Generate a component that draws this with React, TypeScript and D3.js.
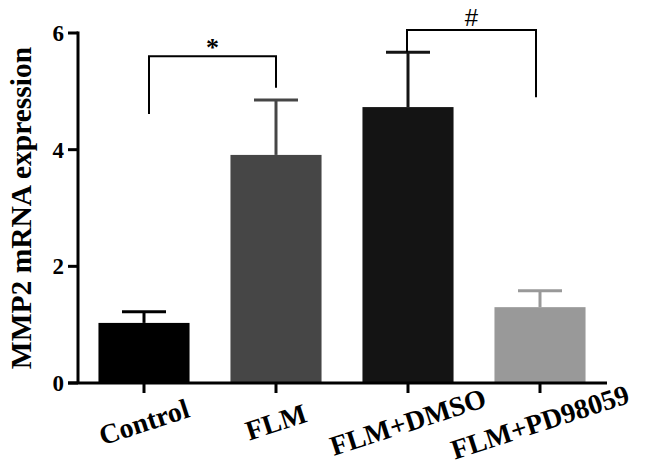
import React from "react";
import * as d3 from "d3";

const categories = ["Control", "FLM", "FLM+DMSO", "FLM+PD98059"];
const means = [1.03, 3.91, 4.73, 1.3];
const errors = [0.19, 0.94, 0.94, 0.28];
const barColors = ["#000000", "#464646", "#141414", "#999999"];
const yTicks = [0, 2, 4, 6];
const brackets = [
  { from: 0, to: 1, top: 5.6, leftEnd: 4.61, rightEnd: 5.06, label: "*" },
  { from: 2, to: 3, top: 6.05, leftEnd: 5.67, rightEnd: 4.9, label: "#" },
];

const W = 646;
const H = 467;

export default function App() {
  const y = d3.scaleLinear().domain([0, 6]).range([383, 33]);
  const x = d3
    .scaleBand<string>()
    .domain(categories)
    .range([78, 606])
    .paddingInner(0.31)
    .paddingOuter(0.155);
  const cx = (i: number) => (x(categories[i]) as number) + x.bandwidth() / 2;
  const serif = "'Liberation Serif', 'Times New Roman', serif";
  const capW = 44;

  return (
    <svg
      width={W}
      height={H}
      style={{ position: "absolute", left: 0, top: 0, background: "#fff" }}
    >
      {/* bars */}
      {categories.map((c, i) => (
        <rect
          key={c}
          x={x(c)}
          y={y(means[i])}
          width={x.bandwidth()}
          height={y(0) - y(means[i])}
          fill={barColors[i]}
        />
      ))}
      {/* error bars */}
      {categories.map((c, i) => (
        <g key={c + "e"} stroke={barColors[i]} strokeWidth={3}>
          <line x1={cx(i)} x2={cx(i)} y1={y(means[i])} y2={y(means[i] + errors[i])} />
          <line
            x1={cx(i) - capW / 2}
            x2={cx(i) + capW / 2}
            y1={y(means[i] + errors[i])}
            y2={y(means[i] + errors[i])}
          />
        </g>
      ))}
      {/* y axis */}
      <line x1={78} x2={78} y1={y(6) - 1.5} y2={y(0)} stroke="#000" strokeWidth={3} />
      {yTicks.map((t) => (
        <g key={t}>
          <line x1={68} x2={78} y1={y(t)} y2={y(t)} stroke="#000" strokeWidth={3} />
          <text
            x={64}
            y={y(t) + 8}
            textAnchor="end"
            fontFamily={serif}
            fontWeight="bold"
            fontSize={23}
          >
            {t}
          </text>
        </g>
      ))}
      {/* x axis */}
      <line x1={68} x2={607} y1={y(0)} y2={y(0)} stroke="#000" strokeWidth={3} />
      {categories.map((c, i) => (
        <g key={c + "t"}>
          <line x1={cx(i)} x2={cx(i)} y1={y(0)} y2={y(0) + 10} stroke="#000" strokeWidth={3} />
          <text
            transform={`translate(${cx(i)},${422}) rotate(-18)`}
            textAnchor="middle"
            dominantBaseline="central"
            fontFamily={serif}
            fontWeight="bold"
            fontSize={28}
          >
            {c}
          </text>
        </g>
      ))}
      {/* y label */}
      <text
        transform={`translate(31,${208}) rotate(-90)`}
        textAnchor="middle"
        fontFamily={serif}
        fontWeight="bold"
        fontSize={29.5}
      >
        MMP2 mRNA expression
      </text>
      {/* significance brackets */}
      {brackets.map((b, k) => {
        const x1 = cx(b.from) + (k === 0 ? 5 : -1);
        const x2 = cx(b.to) - (k === 0 ? 0 : 4);
        return (
          <g key={k}>
            <path
              d={`M${x1},${y(b.leftEnd)}V${y(b.top)}H${x2}V${y(b.rightEnd)}`}
              fill="none"
              stroke="#000"
              strokeWidth={2}
            />
            {b.label === "*" ? (
              <text
                x={(x1 + x2) / 2}
                y={y(b.top) + 0}
                textAnchor="middle"
                fontFamily={serif}
                fontWeight="bold"
                fontSize={26}
              >
                *
              </text>
            ) : (
              <text
                x={(x1 + x2) / 2}
                y={y(b.top) - 4}
                textAnchor="middle"
                fontFamily="'Liberation Sans', Arial, sans-serif"
                fontSize={24}
              >
                #
              </text>
            )}
          </g>
        );
      })}
    </svg>
  );
}
